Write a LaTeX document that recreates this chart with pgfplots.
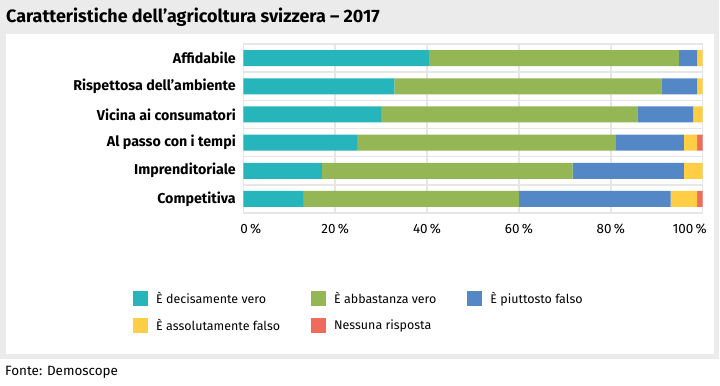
\documentclass[border=0pt]{standalone}
\usepackage{fontspec}
\setmainfont{Fira Sans}
\usepackage{pgfplots}
\pgfplotsset{compat=1.18}
\definecolor{cteal}{HTML}{26B5BB}
\definecolor{cgreen}{HTML}{94B655}
\definecolor{cblue}{HTML}{5387C6}
\definecolor{cyellow}{HTML}{FFCE44}
\definecolor{cred}{HTML}{EF6B5B}
\definecolor{bggray}{HTML}{EBEBEB}
\definecolor{gridgray}{HTML}{E6E6E6}
\begin{document}
\begin{tikzpicture}
\useasboundingbox (0,0) rectangle (720bp,-386bp);
\fill[white] (0,0) rectangle (720bp,-386bp);
\fill[bggray] (0,0) rectangle (719bp,-359bp);
\fill[white] (6bp,-34bp) rectangle (714bp,-354bp);
\node[anchor=base west, inner sep=0pt, font=\fontsize{18}{21}\selectfont\bfseries] at (6bp,-22.7bp) {Caratteristiche dell’agricoltura svizzera – 2017};
\node[anchor=base west, inner sep=0pt, font=\fontsize{13.5}{16}\selectfont] at (5bp,-375bp) {Fonte: Demoscope};
\begin{axis}[
  at={(243.3bp,-44bp)}, anchor=north west,
  scale only axis, width=459.4bp, height=169bp,
  xbar stacked, bar width=16bp,
  xmin=0, xmax=100, ymin=-0.5, ymax=5.5, y dir=reverse,
  ytick={0,1,2,3,4,5},
  yticklabels={Affidabile, Rispettosa dell’ambiente, Vicina ai consumatori, Al passo con i tempi, Imprenditoriale, Competitiva},
  minor ytick={0.5,1.5,2.5,3.5,4.5},
  xtick={0,20,40,60,80,100},
  xticklabels={\makebox[0pt][l]{\hspace{-3bp}0\,\%}, 20\,\%, 40\,\%, 60\,\%, 80\,\%, \makebox[0pt][r]{100\,\%\hspace{-4bp}}},
  xmajorgrids, yminorgrids,
  grid style={draw=gridgray, line width=1.5bp},
  minor grid style={draw=gridgray, line width=1.5bp},
  axis line style={draw=gridgray, line width=1.5bp},
  major tick length=0pt, minor tick length=0pt,
  tick style={draw=none},
  yticklabel style={font=\fontsize{14.3}{16}\selectfont\bfseries, xshift=-4bp},
  xticklabel style={font=\fontsize{13.5}{16}\selectfont, yshift=-7bp},
  legend columns=3,
  legend cell align=left,
  legend image code/.code={\fill[#1] (0bp,-7.5bp) rectangle (15bp,7.5bp);},
  legend style={at={(rel axis cs:-0.240,-0.46)}, anchor=north west, draw=none, fill=none,
    inner sep=0pt, font=\fontsize{12.5}{15}\selectfont, row sep=12bp,
    /tikz/every even column/.append style={column sep=31bp},
    /tikz/every odd column/.append style={column sep=8bp},
    nodes={inner sep=0pt}},
]
\addplot[fill=cteal, draw=none] coordinates {(40.4,0) (32.9,1) (30.0,2) (24.8,3) (17.1,4) (13.0,5)};
\addplot[fill=cgreen, draw=none] coordinates {(54.4,0) (58.1,1) (55.8,2) (56.3,3) (54.6,4) (47.0,5)};
\addplot[fill=cblue, draw=none] coordinates {(4.0,0) (7.8,1) (12.1,2) (14.8,3) (24.2,4) (33.0,5)};
\addplot[fill=cyellow, draw=none] coordinates {(1.2,0) (1.2,1) (2.1,2) (2.9,3) (4.1,4) (5.8,5)};
\addplot[fill=cred, draw=none] coordinates {(0,0) (0,1) (0,2) (1.2,3) (0,4) (1.2,5)};
\legend{È decisamente vero, È abbastanza vero, È piuttosto falso, È assolutamente falso, Nessuna risposta}
\end{axis}
\end{tikzpicture}
\end{document}
